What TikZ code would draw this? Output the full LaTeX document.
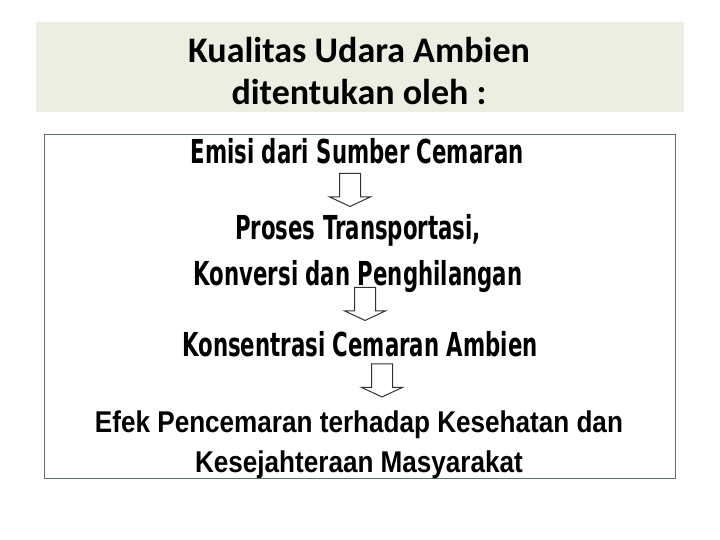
\documentclass[tikz,border=0pt]{standalone}
\usepackage{fontspec}
\setmainfont{Carlito}
\newfontfamily\stepfont[FakeStretch=0.645]{DejaVu Sans}
\newfontfamily\narrowfont[FakeStretch=0.87]{Liberation Sans}
\usepackage{tikz}
\usetikzlibrary{
        positioning,
        shapes.arrows
    }
\definecolor{titlebg}{HTML}{EBEEE0}
\definecolor{frameline}{HTML}{607078}
\tikzset{x=1pt,y=-1pt}
\tikzset{titletext/.style={anchor=base,inner sep=0pt,font=\bfseries\fontsize{36}{42}\selectfont}}
\tikzset{steptext/.style={anchor=base,inner sep=0pt,font=\stepfont\bfseries\fontsize{33}{38}\selectfont}}
\tikzset{effecttext/.style={anchor=base,inner sep=0pt,font=\narrowfont\bfseries\fontsize{30}{38}\selectfont}}
\tikzset{downarrow/.style={single arrow,draw=black!80,line width=1pt,rotate=-90,inner xsep=0pt,inner ysep=10pt,
        minimum height=33pt,single arrow head extend=10pt,single arrow tip angle=130}}

\begin{document}
\begin{tikzpicture}
                \useasboundingbox (0,0) rectangle (720,540);
                \fill[titlebg] (36,22) rectangle (684,112);
                \draw[frameline] (44.5,134.5) rectangle (675.5,478.5);
                \node[titletext] (title1) at (359,63)   {Kualitas Udara Ambien};
                \node[titletext] (title2) at (359,105)  {ditentukan oleh :};
                \node[steptext] (emisi)  at (357,164)   {Emisi dari Sumber Cemaran};
                \node[steptext] (proses) at (358,240)   {Proses Transportasi,};
                \node[steptext] (konversi) at (358,285) {Konversi dan Penghilangan};
                \node[steptext] (konsentrasi) at (360,356) {Konsentrasi Cemaran Ambien};
                \node[effecttext] (efek) at (359,432)   {Efek Pencemaran terhadap Kesehatan dan};
                \node[effecttext] (sejahtera) at (359,472) {Kesejahteraan Masyarakat};
                \node[downarrow] (arrow1) at (350,187.5) {};
                \node[downarrow] (arrow2) at (365,301.5) {};
                \node[downarrow] (arrow3) at (382,378) {};
            \end{tikzpicture}
\end{document}
